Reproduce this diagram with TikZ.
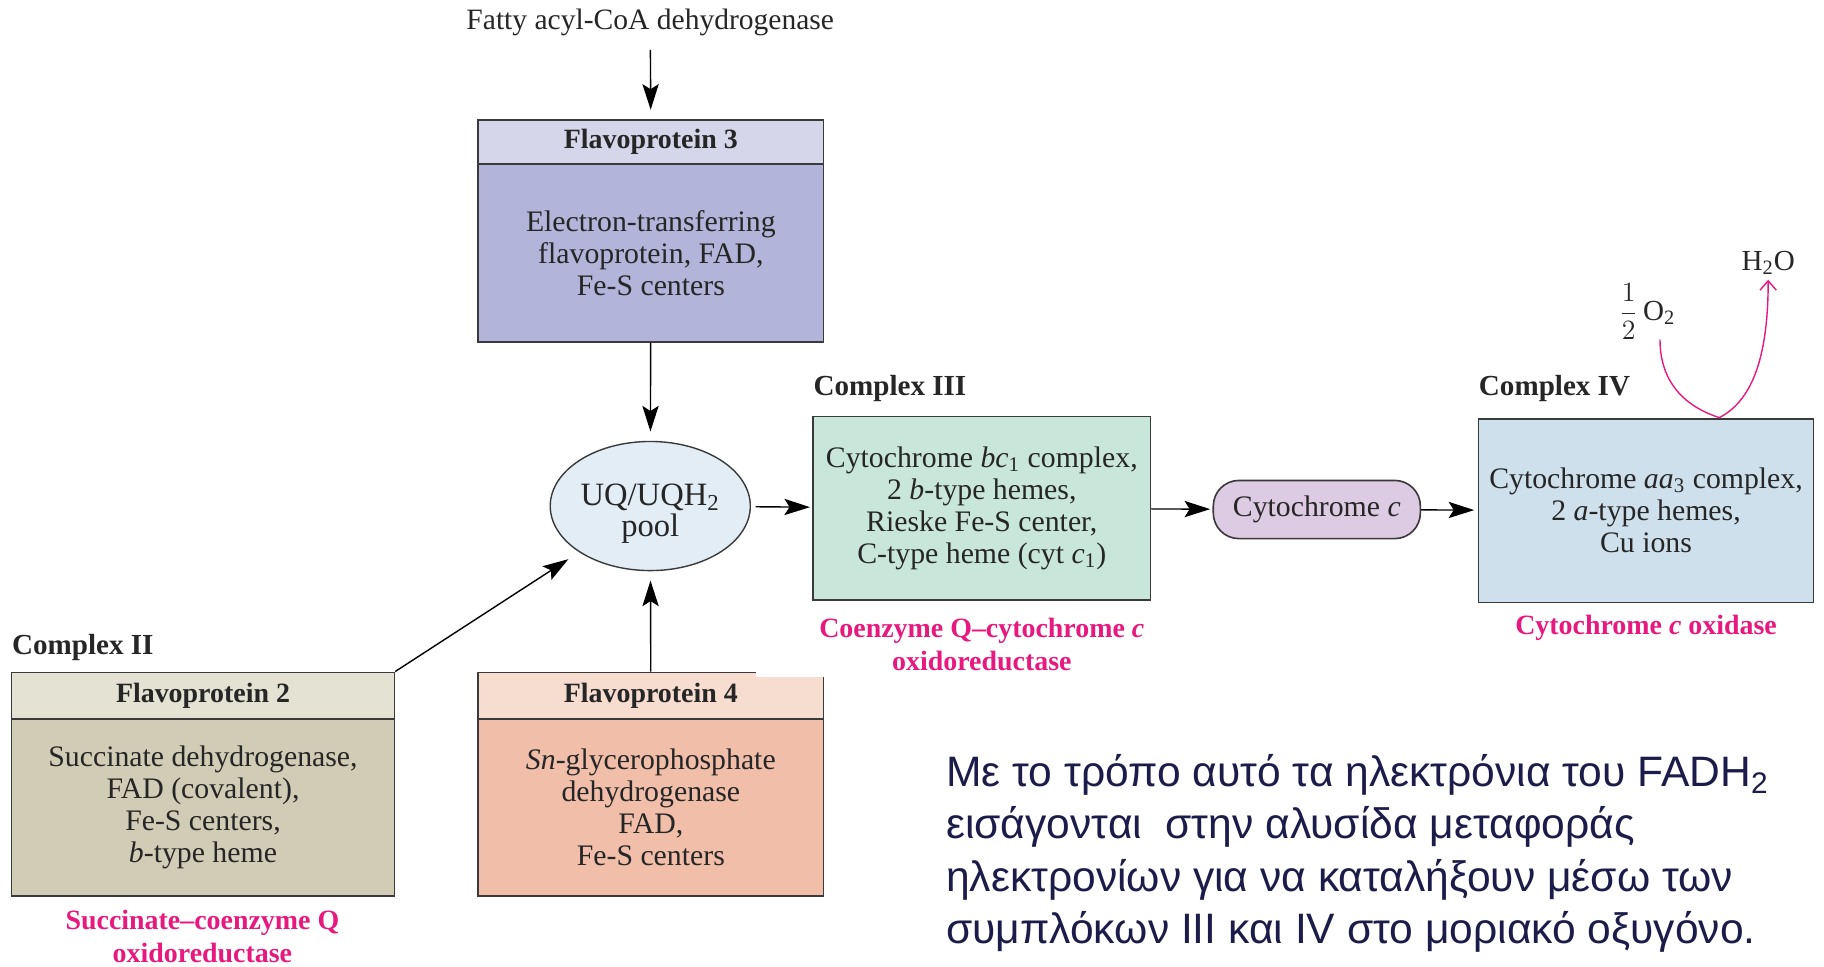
\documentclass[tikz,border=0pt]{standalone}
\usepackage{fontspec}
\setmainfont{Liberation Serif}
\newfontfamily\greekfont{Liberation Sans}
\usetikzlibrary{arrows.meta,shapes.geometric}
\definecolor{fpthreeh}{HTML}{D6D6EA}
\definecolor{fpthreeb}{HTML}{B2B4DA}
\definecolor{poolc}{HTML}{E2EDF5}
\definecolor{cthree}{HTML}{C8E6D9}
\definecolor{cytcc}{HTML}{DCCBE3}
\definecolor{cfour}{HTML}{CEE0EC}
\definecolor{fptwoh}{HTML}{E4E2D3}
\definecolor{fptwob}{HTML}{D0CCB5}
\definecolor{fpfourh}{HTML}{F7DDD0}
\definecolor{fpfourb}{HTML}{F0BEA9}
\definecolor{magentac}{HTML}{E8197E}
\definecolor{borderc}{HTML}{3A3A3A}
\definecolor{textc}{HTML}{262626}
\definecolor{greekc}{HTML}{1C1C4A}
\tikzset{
  boxnode/.style={draw=borderc, line width=0.7pt, inner sep=0pt, align=center,
    text=textc, font=\fontsize{12.8}{13.8}\selectfont},
  headnode/.style={boxnode, font=\fontsize{12}{13.8}\selectfont\bfseries},
  cplxlabel/.style={anchor=west, inner sep=0pt, text=textc, font=\fontsize{12.5}{14}\selectfont\bfseries},
  pinklabel/.style={inner sep=0pt, align=center, text=magentac, font=\fontsize{12}{14}\selectfont\bfseries},
  arr/.style={draw=black, line width=0.6pt, -{Stealth[length=11pt,width=7pt,inset=2.2pt]}},
  pinkarr/.style={draw=magentac, line width=0.6pt, -{Straight Barb[length=4pt,width=7pt]}}
}
\begin{document}
\begin{tikzpicture}[x=0.5pt,y=-0.5pt]
\useasboundingbox (0,0) rectangle (1568,831);

% top label
\node[inner sep=0pt, text=textc, font=\fontsize{12.7}{14}\selectfont] (fatty) at (559,19) {Fatty acyl-CoA dehydrogenase};

% Flavoprotein 3
\node[headnode, fill=fpthreeh, minimum width=148.5pt, minimum height=19pt] (fp3h) at (559.5,122) {Flavoprotein 3};
\node[boxnode, fill=fpthreeb, minimum width=148.5pt, minimum height=76.5pt] (fp3) at (559.5,217.5) {Electron-transferring\\flavoprotein, FAD,\\Fe-S centers};

% pool
\node[ellipse, draw=borderc, line width=0.6pt, fill=poolc, minimum width=86pt, minimum height=55.5pt, inner sep=0pt] (pool) at (559,435) {};
\node[inner sep=0pt, align=center, text=textc, font=\fontsize{14}{13.5}\selectfont] (pooltext) at (559,441.5) {UQ/UQH\textsubscript{2}\\pool};

% Complex III
\node[cplxlabel] (c3lab) at (699,334) {Complex III};
\node[boxnode, fill=cthree, minimum width=145pt, minimum height=79pt] (c3) at (844,437) {Cytochrome \textit{bc}\textsubscript{1} complex,\\2 \textit{b}-type hemes,\\Rieske Fe-S center,\\C-type heme (cyt \textit{c}\textsubscript{1})};
\node[pinklabel] (c3name) at (844,554) {Coenzyme Q--cytochrome \textit{c}\\oxidoreductase};

% Cytochrome c
\node[boxnode, fill=cytcc, rounded corners=11pt, minimum width=89pt, minimum height=25pt] (cytc) at (1132,438) {Cytochrome \textit{c}};

% Complex IV
\node[cplxlabel] (c4lab) at (1271,334) {Complex IV};
\node[boxnode, fill=cfour, minimum width=144pt, minimum height=79pt] (c4) at (1415,439) {Cytochrome \textit{aa}\textsubscript{3} complex,\\2 \textit{a}-type hemes,\\Cu ions};
\node[pinklabel] (c4name) at (1415,540) {Cytochrome \textit{c} oxidase};

% oxygen / water
\node[inner sep=0pt, text=textc, font=\fontsize{12.5}{14}\selectfont] (o2) at (1416,268) {$\displaystyle\frac{1}{2}$\,O\textsubscript{2}};
\node[inner sep=0pt, text=textc, font=\fontsize{12.5}{14}\selectfont] (h2o) at (1520,226) {H\textsubscript{2}O};
\coordinate (o2s) at (1427,292);
\coordinate (jn) at (1478,359);

% Complex II
\node[cplxlabel] (c2lab) at (10,557) {Complex II};
\node[headnode, fill=fptwoh, minimum width=164.5pt, minimum height=20pt] (fp2h) at (174.5,598) {Flavoprotein 2};
\node[boxnode, fill=fptwob, minimum width=164.5pt, minimum height=76pt] (fp2) at (174.5,694) {Succinate dehydrogenase,\\FAD (covalent),\\Fe-S centers,\\\textit{b}-type heme};
\node[pinklabel] (c2name) at (174,805) {Succinate--coenzyme Q\\oxidoreductase};

% Flavoprotein 4
\node[headnode, fill=fpfourh, minimum width=148.5pt, minimum height=20pt] (fp4h) at (559.5,598) {Flavoprotein 4};
\node[boxnode, fill=fpfourb, minimum width=148.5pt, minimum height=76pt] (fp4) at (559.5,694) {\textit{Sn}-glycerophosphate\\dehydrogenase\\FAD,\\Fe-S centers};
\fill[white] (650,575) rectangle (710,582);

% connectors
\draw[arr, shorten <=6pt, shorten >=4pt] (fatty) -- (fp3h);
\draw[arr, shorten >=4pt] (fp3) -- (pool);
\draw[arr, shorten >=4pt] (fp4h) -- (pool);
\draw[arr, shorten >=5.5pt] (fp2h.north east) -- (pool);
\draw[arr, shorten <=2pt, shorten >=1pt] (pool) -- (c3);
\draw[arr, shorten >=1pt] (c3) -- (cytc);
\draw[arr, shorten >=1.5pt] (cytc) -- (c4);
\draw[pinkarr, shorten >=2pt] (o2s) .. controls (1427,330) and (1450,350) .. (jn) .. controls (1505,345) and (1520,310) .. (h2o.south);

% Greek text
\node[anchor=north west, inner sep=0pt, align=left, text=greekc, font=\greekfont\fontsize{18.3}{22.5}\selectfont] (greek) at (813,648) {Με το τρόπο αυτό τα ηλεκτρόνια του FADH\textsubscript{2}\\εισάγονται\ \ στην αλυσίδα μεταφοράς\\ηλεκτρονίων για να καταλήξουν μέσω των\\συμπλόκων ΙΙΙ και ΙV στο μοριακό οξυγόνο.};
\end{tikzpicture}
\end{document}
